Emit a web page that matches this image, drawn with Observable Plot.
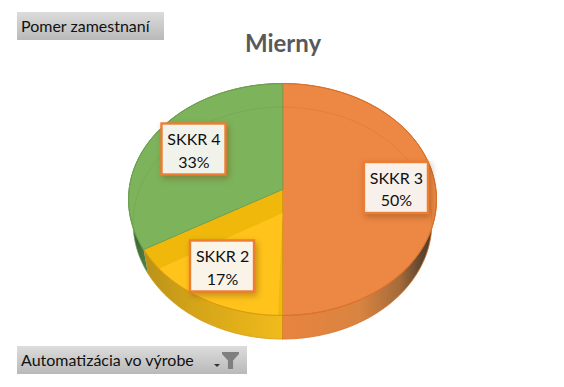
<!DOCTYPE html>
<html>
<head>
<meta charset="utf-8">
<script src="https://cdn.jsdelivr.net/npm/d3@7"></script>
<script src="https://cdn.jsdelivr.net/npm/@observablehq/plot@0.6"></script>
<style>
html,body{margin:0;padding:0;background:#fff}
#root{position:relative;width:564px;height:387px;overflow:hidden;font-family:Lato,"Open Sans",sans-serif}
#root svg.plot{display:block}
.btn{position:absolute;left:17px;height:28px;line-height:28px;background:linear-gradient(#dcdcdc,#b9b9b9);color:#111;font-size:16px;padding-left:4px;box-sizing:border-box;white-space:nowrap}
#title{position:absolute;left:0;width:566px;top:28px;text-align:center;font-size:24px;font-weight:700;color:#595959;line-height:30px}
#funnel{position:absolute;left:222px;top:352px;width:17px;height:17px;background:#7f7f7f;clip-path:polygon(0 0,100% 0,100% 12%,65% 50%,65% 100%,35% 100%,35% 50%,0 12%)}
#caret{position:absolute;left:214px;top:364px;width:6px;height:3px;background:#333;clip-path:polygon(0 0,100% 0,50% 100%)}
</style>
</head>
<body>
<div id="root">
  <div class="btn" style="top:12px;width:147px">Pomer zamestnaní</div>
  <div id="title">Mierny</div>
  <div class="btn" style="top:346px;width:230px">Automatizácia vo výrobe</div>
  <div id="caret"></div>
  <div id="funnel"></div>
</div>
<script>
// Data
const categories = ["SKKR 3", "SKKR 2", "SKKR 4"];
const shares = [50, 16.67, 33.33];

// Styles
const faceColors = ["#ED8744", "#EFB80B", "#7DB35B"];
const throughColors = [null, "#FFC31B", null];
const edgeColors = ["#D9722A", "#D99A10", "#6E9F50"];
const sideFills = ["url(#sideOrange)", "url(#sideYellow)", "url(#sideGreen)"];
const labelAnchors = [[0.743, 0.013], [-0.391, -0.669], [-0.577, 0.3475]];

// Pie geometry: a tilted disc in perspective, in unit coordinates
const perspective = 0.0862;
const depth = 0.205;
const taper = 0.03;
const project = (deg, r = 1, z = 0) => {
  const a = deg * Math.PI / 180;
  const u = r * Math.sin(a), v = r * Math.cos(a);
  const w = 1 + v * perspective;
  return {x: (u / w) * (1 - taper * z), y: v / w - z * depth};
};
const arc = (from, to, z = 0) => {
  const n = Math.max(2, Math.ceil(Math.abs(to - from) / 1.5));
  return d3.range(n + 1).map(i => project(from + (to - from) * i / n, 1, z));
};

let acc = 0;
const slices = shares.map((s, i) => {
  const from = acc * 3.6; acc += s;
  return {i, name: categories[i], share: s, from, to: acc * 3.6};
});

const topRim = arc(0, 360, 0).map(p => [p.x, p.y]);
const insideTop = p => d3.polygonContains(topRim, [p.x, p.y]);

// Marks
const defs = () => {
  const d = d3.create("svg:defs");
  const grad = (id, stops) => {
    const g = d.append("linearGradient").attr("id", id).attr("gradientUnits", "userSpaceOnUse")
      .attr("x1", 128).attr("x2", 436).attr("y1", 0).attr("y2", 0);
    stops.forEach(([o, c]) => g.append("stop").attr("offset", o).attr("stop-color", c));
  };
  grad("sideOrange", [[0.5, "#E8843F"], [0.75, "#D98441"], [0.88, "#A56B3A"], [0.95, "#5E4630"], [1, "#4A3A2A"]]);
  grad("sideYellow", [[0, "#B08C18"], [0.2, "#D3A318"], [0.5, "#F0BB1C"]]);
  grad("sideGreen", [[0, "#33552E"], [0.05, "#4B7A40"]]);
  return d.node();
};

const poly = (pts, opts) => Plot.line(pts, {x: "x", y: "y", curve: "linear-closed", ...opts});

const sideMarks = slices.map(s => {
  const pts = [...arc(s.from, s.to, 0), ...arc(s.to, s.from, 1)];
  return poly(pts, {fill: sideFills[s.i], stroke: "none"});
});
const bottomEdge = slices.map(s =>
  Plot.line(arc(s.from, s.to, 1).filter(p => !insideTop(p)), {x: "x", y: "y", stroke: edgeColors[s.i], strokeWidth: 0.8}));
const faceMarks = slices.map(s => {
  const c = project(0, 0, 0);
  return poly([c, ...arc(s.from, s.to, 0)], {fill: faceColors[s.i], stroke: edgeColors[s.i], strokeWidth: 1});
});
// Lower disc seen through the translucent top (only visible as a tone change in the narrow slice)
const throughMarks = slices.filter(s => throughColors[s.i]).map(s => {
  const c = project(0, 0, 1);
  const wedge = [c, ...arc(s.from, s.to, 1)].map(p => [p.x, p.y]);
  const inWedge = arc(0, 360, 0).filter(p => d3.polygonContains(wedge, [p.x * 0.999, p.y]));
  inWedge.sort((a, b) => {
    const t = p => (Math.atan2(p.x, p.y + depth) + 2 * Math.PI) % (2 * Math.PI);
    return t(a) - t(b);
  });
  return poly([c, ...inWedge], {fill: throughColors[s.i], stroke: "none"});
});
const throughRim = slices.map(s =>
  Plot.line(arc(s.from, s.to, 1).filter(insideTop), {x: "x", y: "y", stroke: edgeColors[s.i], strokeWidth: 0.8, strokeOpacity: 0.55}));
const frontRim = slices.map(s =>
  Plot.line(arc(s.from, s.to, 0), {x: "x", y: "y", stroke: edgeColors[s.i], strokeWidth: 1}));
const spine = slices.slice(0, 1).map(s =>
  Plot.line([project(s.to, 1, 0), project(s.to, 1, 1)], {x: "x", y: "y", stroke: "#D98A1E", strokeWidth: 1}));

const labels = slices.map(s => ({
  x: labelAnchors[s.i][0], y: labelAnchors[s.i][1],
  text: `${s.name}\n${Math.round(s.share)}%`
}));

const chart = Plot.plot({
  width: 564, height: 387,
  margin: 0,
  style: {background: "transparent", overflow: "visible"},
  x: {domain: [-1, 1], range: [128.6, 435.4], axis: null},
  y: {domain: [-1, 1], range: [304.1, 73.9], axis: null},
  marks: [
    defs,
    ...sideMarks,
    ...bottomEdge,
    ...faceMarks,
    ...throughMarks,
    ...throughRim,
    ...frontRim,
    ...spine,
    Plot.rect(labels, {
      x1: "x", x2: "x", y1: "y", y2: "y",
      insetLeft: -32, insetRight: -32, insetTop: -25.5, insetBottom: -25.5,
      fill: "#fff", fillOpacity: 0.9, stroke: "#ED7D31", strokeWidth: 2.4,
      imageFilter: "drop-shadow(2px 3px 3px rgba(120,70,20,.45))"
    }),
    Plot.text(labels, {
      x: "x", y: "y", text: "text", lineHeight: 1.4,
      fontFamily: "Lato, 'Open Sans', sans-serif", fontSize: 16, fill: "#111"
    })
  ]
});
document.getElementById("root").prepend(chart);
</script>
</body>
</html>
